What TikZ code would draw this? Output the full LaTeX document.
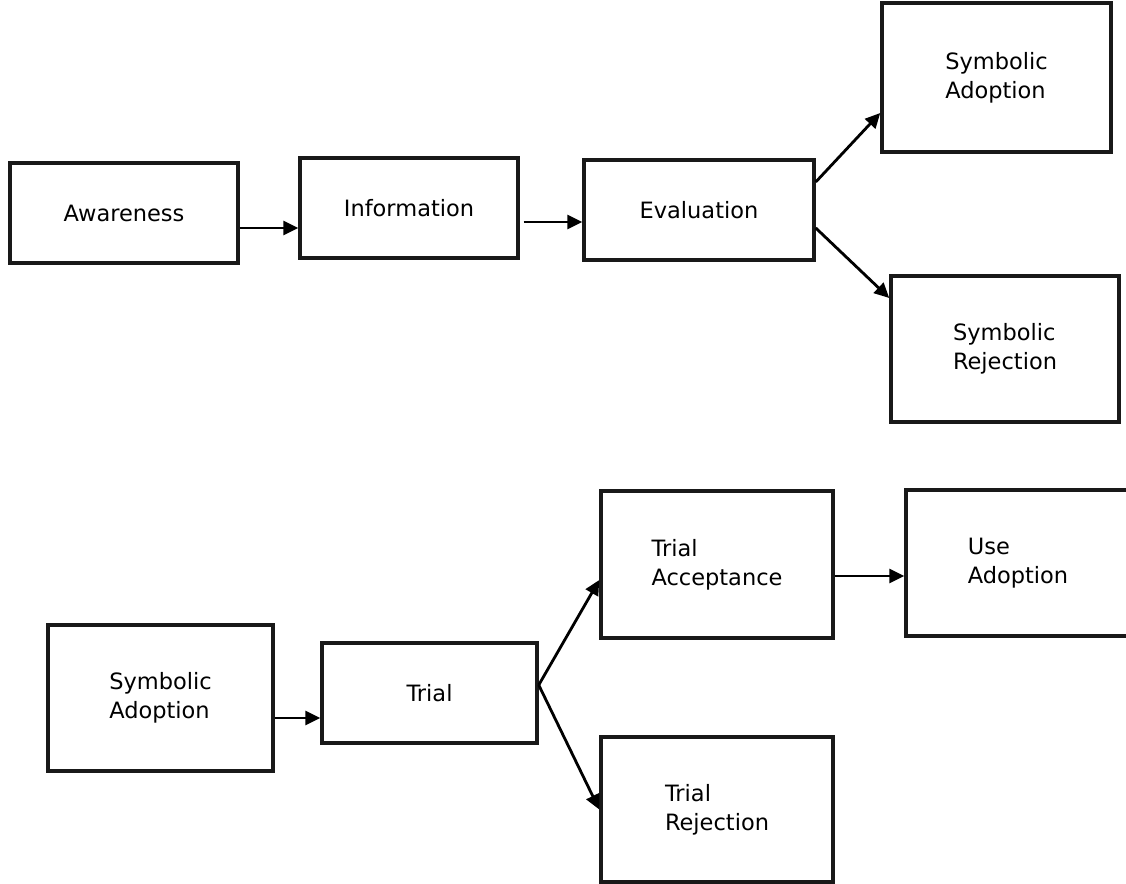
\documentclass[tikz,border=0pt]{standalone}
\usepackage{fontspec}
\setmainfont{DejaVu Sans}
\usetikzlibrary{arrows.meta}

\begin{document}
\begin{tikzpicture}[x=0.02cm,y=-0.02cm,
    stage/.style={draw=black!90, line width=2pt, align=left, inner sep=0pt,
      font=\fontsize{12.8}{16.6}\selectfont},
    flow/.style={line width=1.6pt, -{Triangle[length=8.5pt,width=8pt]}}]
    \useasboundingbox (0,0) rectangle (1126,884);
    \node[stage, minimum width=4.56cm, minimum height=2cm]
      (awareness) at (124,213) {Awareness};
    \node[stage, minimum width=4.36cm, minimum height=2cm]
      (information) at (409,208) {Information};
    \node[stage, minimum width=4.6cm, minimum height=2cm]
      (evaluation) at (699,210) {Evaluation};
    \node[stage, minimum width=4.58cm, minimum height=2.98cm]
      (symadopt) at (996.5,77.5) {Symbolic\\Adoption};
    \node[stage, minimum width=4.56cm, minimum height=2.92cm]
      (symreject) at (1005,349) {Symbolic\\Rejection};
    \node[stage, minimum width=4.5cm, minimum height=2.92cm]
      (symadopt2) at (160.5,698) {Symbolic\\Adoption};
    \node[stage, minimum width=4.3cm, minimum height=2cm]
      (trial) at (429.5,693) {Trial};
    \node[stage, minimum width=4.64cm, minimum height=2.94cm]
      (trialacc) at (717,564.5) {Trial\\Acceptance};
    \node[stage, minimum width=4.48cm, minimum height=2.92cm]
      (useadopt) at (1018,563) {Use\\Adoption};
    \node[stage, minimum width=4.64cm, minimum height=2.9cm]
      (trialrej) at (717,809.5) {Trial\\Rejection};
    \draw[flow] ([yshift=-0.3cm]awareness.east)
      -- ([yshift=-0.3cm]awareness.east -| information.west);
    \draw[flow] ([xshift=0.08cm,yshift=-0.28cm]information.east)
      -- ([yshift=-0.28cm]information.east -| evaluation.west);
    \draw[flow] ([yshift=0.56cm]evaluation.east) -- ([yshift=-0.71cm]symadopt.west);
    \draw[flow] ([yshift=-0.36cm]evaluation.east) -- ([yshift=1.02cm]symreject.west);
    \draw[flow] ([yshift=-0.4cm]symadopt2.east)
      -- ([yshift=-0.4cm]symadopt2.east -| trial.west);
    \coordinate (fork) at ([yshift=0.16cm]trial.east);
    \draw[flow] (fork) -- ([yshift=-0.31cm]trialacc.west);
    \draw[flow] (fork) -- (trialrej.west);
    \draw[flow] ([yshift=-0.23cm]trialacc.east)
      -- ([yshift=-0.23cm]trialacc.east -| useadopt.west);
  \end{tikzpicture}
\end{document}
